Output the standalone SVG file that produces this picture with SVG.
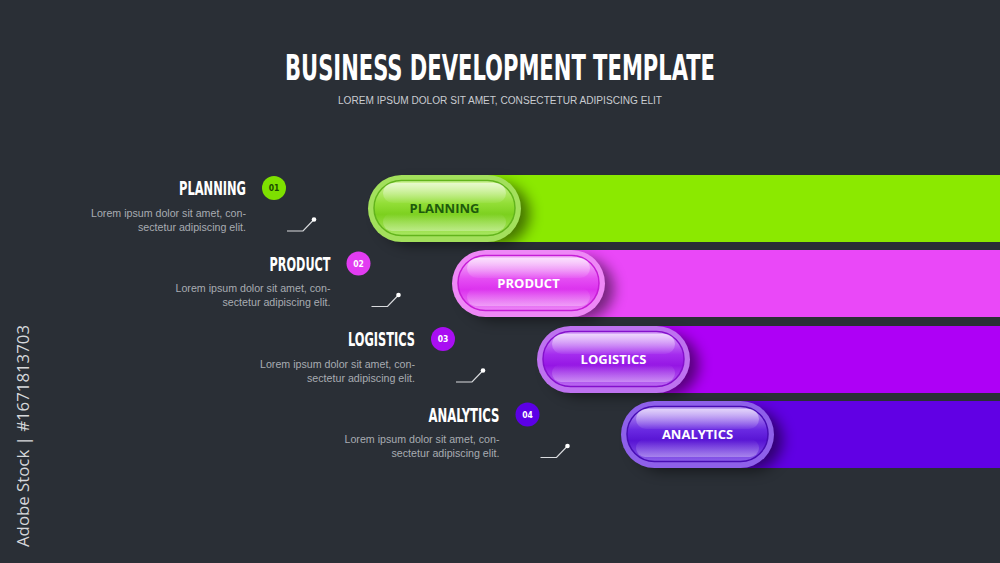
<svg xmlns="http://www.w3.org/2000/svg" width="1000" height="563" viewBox="0 0 1000 563">
<defs>
<style>
.title{font-family:"DejaVu Sans Condensed","Liberation Sans",sans-serif;font-weight:bold;font-stretch:condensed;fill:#ffffff}
.sub{font-family:"Liberation Sans",Arial,sans-serif;font-size:10px;fill:#c9ccd1}
.lbl{font-family:"DejaVu Sans Condensed","Liberation Sans",sans-serif;font-weight:bold;font-stretch:condensed;font-size:20px;fill:#ffffff;text-anchor:end}
.desc{font-family:"Liberation Sans",Arial,sans-serif;font-size:10.5px;fill:#a8acb2;text-anchor:end}
.num{font-family:"DejaVu Sans Condensed","Liberation Sans",sans-serif;font-weight:bold;font-size:8.5px;text-anchor:middle}
.ptxt{font-family:"Open Sans","Liberation Sans",sans-serif;font-weight:bold;font-size:13px;text-anchor:middle}
.conn{fill:none;stroke:#d9dbde;stroke-width:1.2}
.dot{fill:#ffffff}
</style>
<filter id="sh" x="-30%" y="-40%" width="170%" height="190%">
<feGaussianBlur stdDeviation="7"/>
</filter>
<linearGradient id="gG" x1="0" y1="0" x2="0" y2="1">
<stop offset="0" stop-color="#D2F59C"/><stop offset="0.42" stop-color="#92DE36"/><stop offset="0.62" stop-color="#7CD01E"/><stop offset="1" stop-color="#A9E762"/>
</linearGradient>
<linearGradient id="gM" x1="0" y1="0" x2="0" y2="1">
<stop offset="0" stop-color="#F7C6FB"/><stop offset="0.42" stop-color="#E54EF3"/><stop offset="0.62" stop-color="#DC32EE"/><stop offset="1" stop-color="#EC84F6"/>
</linearGradient>
<linearGradient id="gP" x1="0" y1="0" x2="0" y2="1">
<stop offset="0" stop-color="#DDB0FA"/><stop offset="0.42" stop-color="#A42CEE"/><stop offset="0.62" stop-color="#9516E4"/><stop offset="1" stop-color="#BB6CF2"/>
</linearGradient>
<linearGradient id="gV" x1="0" y1="0" x2="0" y2="1">
<stop offset="0" stop-color="#C6A8F6"/><stop offset="0.42" stop-color="#6A2AE2"/><stop offset="0.62" stop-color="#5814D4"/><stop offset="1" stop-color="#8C5EEA"/>
</linearGradient>
<linearGradient id="hi" x1="0" y1="0" x2="0" y2="1">
<stop offset="0" stop-color="#ffffff" stop-opacity="0.55"/><stop offset="1" stop-color="#ffffff" stop-opacity="0.05"/>
</linearGradient>
<linearGradient id="lo" x1="0" y1="0" x2="0" y2="1">
<stop offset="0" stop-color="#ffffff" stop-opacity="0"/><stop offset="1" stop-color="#ffffff" stop-opacity="0.3"/>
</linearGradient>
</defs>
<rect x="0" y="0" width="1000" height="563" fill="#2A2F36"/>

<g id="header">
<text class="title" x="285" y="80" font-size="36" textLength="430" lengthAdjust="spacingAndGlyphs">BUSINESS DEVELOPMENT TEMPLATE</text>
<text class="sub" x="338" y="104" textLength="324" lengthAdjust="spacingAndGlyphs">LOREM IPSUM DOLOR SIT AMET, CONSECTETUR ADIPISCING ELIT</text>
</g>

<g id="bars">
<rect x="430" y="175" width="570" height="67" fill="#8BE900"/>
<rect x="515" y="250" width="485" height="67" fill="#EA48F8"/>
<rect x="600" y="326" width="400" height="67" fill="#AE00F6"/>
<rect x="685" y="401" width="315" height="67" fill="#6100E4"/>
</g>

<g id="pill-planning" transform="translate(368,175)">
<rect x="12" y="8" width="150" height="62" rx="31" fill="#000" opacity="0.5" filter="url(#sh)"/>
<rect x="0" y="0" width="153" height="67" rx="33.5" fill="#A3E05C"/>
<rect x="6" y="5.5" width="141" height="55" rx="27.5" fill="url(#gG)" stroke="#62B41C" stroke-width="1.5"/>
<rect x="15" y="8" width="123" height="20" rx="10" fill="url(#hi)"/>
<rect x="15" y="38" width="123" height="18" rx="9" fill="url(#lo)"/>
<text class="ptxt" x="76.5" y="38" fill="#1E5A0C">PLANNING</text>
</g>

<g id="pill-product" transform="translate(452,250)">
<rect x="12" y="8" width="150" height="62" rx="31" fill="#000" opacity="0.5" filter="url(#sh)"/>
<rect x="0" y="0" width="153" height="67" rx="33.5" fill="#EE88F6"/>
<rect x="6" y="5.5" width="141" height="55" rx="27.5" fill="url(#gM)" stroke="#C61CD6" stroke-width="1.5"/>
<rect x="15" y="8" width="123" height="20" rx="10" fill="url(#hi)"/>
<rect x="15" y="38" width="123" height="18" rx="9" fill="url(#lo)"/>
<text class="ptxt" x="76.5" y="38" fill="#ffffff">PRODUCT</text>
</g>

<g id="pill-logistics" transform="translate(537,326)">
<rect x="12" y="8" width="150" height="62" rx="31" fill="#000" opacity="0.5" filter="url(#sh)"/>
<rect x="0" y="0" width="153" height="67" rx="33.5" fill="#BE72F0"/>
<rect x="6" y="5.5" width="141" height="55" rx="27.5" fill="url(#gP)" stroke="#8410CC" stroke-width="1.5"/>
<rect x="15" y="8" width="123" height="20" rx="10" fill="url(#hi)"/>
<rect x="15" y="38" width="123" height="18" rx="9" fill="url(#lo)"/>
<text class="ptxt" x="76.5" y="38" fill="#ffffff">LOGISTICS</text>
</g>

<g id="pill-analytics" transform="translate(621,401)">
<rect x="12" y="8" width="150" height="62" rx="31" fill="#000" opacity="0.5" filter="url(#sh)"/>
<rect x="0" y="0" width="153" height="67" rx="33.5" fill="#8E60EA"/>
<rect x="6" y="5.5" width="141" height="55" rx="27.5" fill="url(#gV)" stroke="#470CB4" stroke-width="1.5"/>
<rect x="15" y="8" width="123" height="20" rx="10" fill="url(#hi)"/>
<rect x="15" y="38" width="123" height="18" rx="9" fill="url(#lo)"/>
<text class="ptxt" x="76.5" y="38" fill="#ffffff">ANALYTICS</text>
</g>

<g id="item-planning">
<text class="lbl" x="246" y="195" textLength="67" lengthAdjust="spacingAndGlyphs">PLANNING</text>
<circle cx="274" cy="188" r="12" fill="#7EE000"/>
<text class="num" x="274" y="191" fill="#1A4A00">01</text>
<text class="desc" x="246" y="216.5" textLength="155" lengthAdjust="spacingAndGlyphs">Lorem ipsum dolor sit amet, con-</text>
<text class="desc" x="246" y="230.5" textLength="108" lengthAdjust="spacingAndGlyphs">sectetur adipiscing elit.</text>
</g>
<g id="item-product">
<text class="lbl" x="330.5" y="270.5" textLength="61" lengthAdjust="spacingAndGlyphs">PRODUCT</text>
<circle cx="358.5" cy="263.5" r="12" fill="#E23CF2"/>
<text class="num" x="358.5" y="266.5" fill="#ffffff">02</text>
<text class="desc" x="330.5" y="292" textLength="155" lengthAdjust="spacingAndGlyphs">Lorem ipsum dolor sit amet, con-</text>
<text class="desc" x="330.5" y="306" textLength="108" lengthAdjust="spacingAndGlyphs">sectetur adipiscing elit.</text>
</g>
<g id="item-logistics">
<text class="lbl" x="415" y="346" textLength="67" lengthAdjust="spacingAndGlyphs">LOGISTICS</text>
<circle cx="443" cy="339" r="12" fill="#A90EF2"/>
<text class="num" x="443" y="342" fill="#ffffff">03</text>
<text class="desc" x="415" y="367.5" textLength="155" lengthAdjust="spacingAndGlyphs">Lorem ipsum dolor sit amet, con-</text>
<text class="desc" x="415" y="381.5" textLength="108" lengthAdjust="spacingAndGlyphs">sectetur adipiscing elit.</text>
</g>
<g id="item-analytics">
<text class="lbl" x="499.5" y="421.5" textLength="71" lengthAdjust="spacingAndGlyphs">ANALYTICS</text>
<circle cx="527.5" cy="414.5" r="12" fill="#5C00E6"/>
<text class="num" x="527.5" y="417.5" fill="#ffffff">04</text>
<text class="desc" x="499.5" y="443" textLength="155" lengthAdjust="spacingAndGlyphs">Lorem ipsum dolor sit amet, con-</text>
<text class="desc" x="499.5" y="457" textLength="108" lengthAdjust="spacingAndGlyphs">sectetur adipiscing elit.</text>
</g>

<g id="connectors">
<polyline class="conn" points="287,231 303,231 314,219.5"/>
<circle class="dot" cx="314" cy="219.5" r="2.3"/>
<polyline class="conn" points="371.5,306.5 387.5,306.5 398.5,295"/>
<circle class="dot" cx="398.5" cy="295" r="2.3"/>
<polyline class="conn" points="456,382 472,382 483,370.5"/>
<circle class="dot" cx="483" cy="370.5" r="2.3"/>
<polyline class="conn" points="540.5,457.5 556.5,457.5 567.5,446"/>
<circle class="dot" cx="567.5" cy="446" r="2.3"/>
</g>

<text transform="translate(29,547) rotate(-90)" font-family="'Open Sans','Liberation Sans',sans-serif" font-size="16" fill="#d6d8db" textLength="222" lengthAdjust="spacingAndGlyphs">Adobe Stock | #1671813703</text>
</svg>
